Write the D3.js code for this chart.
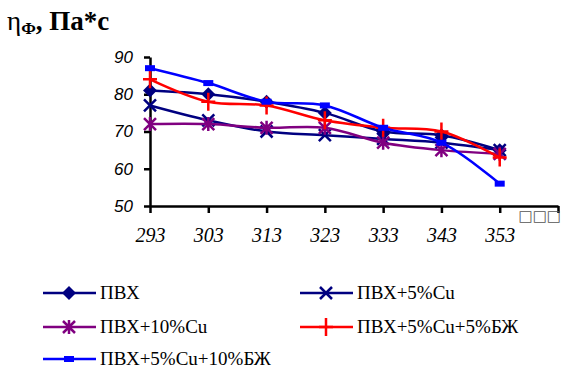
<!DOCTYPE html>
<html><head><meta charset="utf-8">
<script src="https://cdn.jsdelivr.net/npm/d3@7"></script>
<style>
body{margin:0;background:#fff}
#wrap{position:relative;width:568px;height:371px}
#c{position:absolute;left:0;top:0;display:block}
.lbl{position:absolute;white-space:nowrap;line-height:1;font-family:'Liberation Serif';color:#000}
</style>
</head><body>
<div id="wrap"><svg id="c" width="568" height="371"></svg></div>
<script>
const categories = ["293","303","313","323","333","343","353","□□□"];
const yTicks = [50,60,70,80,90];
const seriesNames = ["ПВХ","ПВХ+5%Cu","ПВХ+10%Cu","ПВХ+5%Cu+5%БЖ","ПВХ+5%Cu+10%БЖ"];
const pvh      = [81,80,78,75,70,69,65];
const pvh5Cu   = [77,73,70,69,68,67,65];
const pvh10Cu  = [72,72,71,71,67,65,64];
const pvh5Cu5B = [84,78,77,73,71,70,63];
const pvh5Cu10B= [87,83,78,77,71,67,56];
const colors = ["#000080","#000080","#800080","#ff0000","#0000ff"];
const markers = ["diamond","x","star","plus","rect"];

const wrap = d3.select("#wrap");
const svg = d3.select("#c");
const x = d3.scalePoint().domain(categories).range([150,558]);
const y = d3.scaleLinear().domain([50,90]).range([206,57]);

// title (HTML overlay)
const title = wrap.append("div").attr("class","lbl")
  .style("left","7px").style("top","8px").style("font-size","27px");
title.append("span").text("η");
title.append("span").style("font-weight","bold").style("font-size","17px")
  .style("vertical-align","-4px").text("Ф");
title.append("span").style("font-weight","bold").text(", Па*с");

// axes
const yAxis = svg.append("g").attr("transform","translate(150,0)")
  .call(d3.axisLeft(y).tickValues(yTicks).tickSize(6).tickSizeOuter(0));
yAxis.attr("font-family","Liberation Sans").attr("font-size",17);
yAxis.select(".domain").attr("stroke","#000").attr("stroke-width",2.5);
yAxis.selectAll(".tick line").attr("stroke","#000").attr("stroke-width",2.5);
yAxis.selectAll(".tick text").attr("font-family","Liberation Sans").attr("font-style","italic")
  .attr("font-size",17).attr("fill","#000").attr("x",-17);

const xAxis = svg.append("g").attr("transform","translate(0,206)")
  .call(d3.axisBottom(x).tickSize(7).tickSizeOuter(0));
xAxis.attr("font-family","Liberation Serif").attr("font-size",20);
xAxis.select(".domain").attr("stroke","#000").attr("stroke-width",2.5);
xAxis.selectAll(".tick line").attr("stroke","#000").attr("stroke-width",2.5);
xAxis.selectAll(".tick text").attr("font-family","Liberation Serif").attr("font-style","italic")
  .attr("font-size",20).attr("fill","#000").attr("y",22);
xAxis.selectAll(".tick text").filter(d=>d==="□□□")
  .attr("font-family","DejaVu Sans").attr("font-style","normal").attr("font-size",15)
  .attr("y",4).attr("text-anchor","start").attr("x",-40).attr("fill","#555");

const data = [pvh,pvh5Cu,pvh10Cu,pvh5Cu5B,pvh5Cu10B];
const line = d3.line().x((d,i)=>x(categories[i])).y(d=>y(d)).curve(d3.curveCatmullRom.alpha(0.5));

function drawMarker(g, type, cx, cy, color){
  if(type==="diamond"){
    g.append("path").attr("d","M"+cx+","+(cy-7)+"L"+(cx+7)+","+cy+"L"+cx+","+(cy+7)+"L"+(cx-7)+","+cy+"Z").attr("fill",color);
  } else if(type==="x"){
    g.append("path").attr("d","M"+(cx-6)+","+(cy-6)+"L"+(cx+6)+","+(cy+6)+"M"+(cx-6)+","+(cy+6)+"L"+(cx+6)+","+(cy-6))
      .attr("stroke",color).attr("stroke-width",2.5);
  } else if(type==="star"){
    g.append("path").attr("d","M"+(cx-6)+","+(cy-6)+"L"+(cx+6)+","+(cy+6)+"M"+(cx-6)+","+(cy+6)+"L"+(cx+6)+","+(cy-6)+"M"+cx+","+(cy-7)+"L"+cx+","+(cy+7))
      .attr("stroke",color).attr("stroke-width",2.5);
  } else if(type==="plus"){
    g.append("path").attr("d","M"+(cx-7)+","+cy+"L"+(cx+7)+","+cy+"M"+cx+","+(cy-9)+"L"+cx+","+(cy+9))
      .attr("stroke",color).attr("stroke-width",2.5);
  } else if(type==="rect"){
    g.append("rect").attr("x",cx-5).attr("y",cy-3).attr("width",10).attr("height",6).attr("fill",color);
  }
}

data.forEach((s,k)=>{
  const g = svg.append("g");
  g.append("path").datum(s).attr("d",line).attr("fill","none")
    .attr("stroke",colors[k]).attr("stroke-width",2.5);
  s.forEach((v,i)=>drawMarker(g, markers[k], x(categories[i]), y(v), colors[k]));
});

// legend
const legPos = [[43,293],[300,293],[43,327],[300,327],[43,359]];
seriesNames.forEach((n,k)=>{
  const [lx,ly] = legPos[k];
  const g = svg.append("g");
  g.append("line").attr("x1",lx).attr("x2",lx+53).attr("y1",ly).attr("y2",ly)
    .attr("stroke",colors[k]).attr("stroke-width",2.5);
  drawMarker(g, markers[k], lx+26, ly, colors[k]);
  wrap.append("div").attr("class","lbl").style("font-size","19px")
    .style("left",(lx+57)+"px").style("top",(ly-10)+"px").text(n);
});
</script>
</body></html>
